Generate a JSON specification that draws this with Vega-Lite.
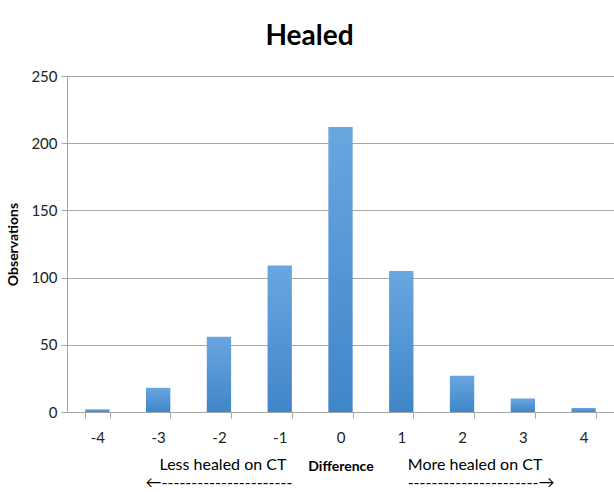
{
  "$schema": "https://vega.github.io/schema/vega-lite/v6.json",
  "width": 547,
  "height": 336,
  "autosize": {"type": "none"},
  "padding": {"left": 67, "top": 76, "right": 0, "bottom": 80},
  "background": "white",
  "title": {"text": "Healed", "font": "Lato", "fontSize": 28, "fontWeight": "bold", "color": "#000000", "anchor": "middle", "frame": "group", "dx": -31, "offset": 18},
  "config": {"view": {"stroke": null}, "font": "Lato"},
  "datasets": {
    "bars": [
      {"cat": "-4", "n": 2},
      {"cat": "-3", "n": 18},
      {"cat": "-2", "n": 56},
      {"cat": "-1", "n": 109},
      {"cat": "0", "n": 212},
      {"cat": "1", "n": 105},
      {"cat": "2", "n": 27},
      {"cat": "3", "n": 10},
      {"cat": "4", "n": 3}
    ],
    "notes": [
      {"cat": "-2", "label": "Less healed on CT", "kind": "less"},
      {"cat": "2", "label": "More healed on CT", "kind": "more"},
      {"cat": "-2", "label": "←----------------------", "kind": "arrowL"},
      {"cat": "2", "label": "----------------------→", "kind": "arrowR"}
    ]
  },
  "encoding": {
    "x": {
      "field": "cat", "type": "nominal",
      "sort": ["-4", "-3", "-2", "-1", "0", "1", "2", "3", "4"],
      "scale": {"paddingInner": 0.6, "paddingOuter": 0.3},
      "axis": {"title": "Difference", "titleFontSize": 14, "titleFontWeight": "bold", "titleColor": "#000000", "titlePadding": 14,
               "labelAngle": 0, "labelFontSize": 15, "labelColor": "#222222", "labelPadding": 12,
               "tickBand": "extent", "tickSize": 6, "tickColor": "#a6a6a6", "domainColor": "#a6a6a6", "grid": false}
    }
  },
  "layer": [
    {
      "data": {"name": "bars"},
      "mark": {"type": "bar", "color": {"gradient": "linear", "x1": 0, "y1": 0, "x2": 0, "y2": 1, "stops": [{"offset": 0, "color": "#6aa6e0"}, {"offset": 1, "color": "#3f86c9"}]}},
      "encoding": {
        "y": {"field": "n", "type": "quantitative", "scale": {"domain": [0, 250], "nice": false},
              "axis": {"title": "Observations", "titleFontSize": 14, "titleFontWeight": "bold", "titleColor": "#000000", "titlePadding": 10,
                       "values": [0, 50, 100, 150, 200, 250], "labelFontSize": 15, "labelColor": "#222222", "labelPadding": 4,
                       "tickSize": 6, "tickColor": "#a6a6a6", "domainColor": "#a6a6a6", "gridColor": "#a6a6a6", "grid": true}}
      }
    },
    {
      "data": {"name": "notes"},
      "transform": [{"filter": "datum.kind == 'less'"}],
      "mark": {"type": "text", "fontSize": 16, "color": "#000000", "baseline": "middle", "dy": 53, "dx": 4},
      "encoding": {"text": {"field": "label"}, "y": {"datum": 0}}
    },
    {
      "data": {"name": "notes"},
      "transform": [{"filter": "datum.kind == 'more'"}],
      "mark": {"type": "text", "fontSize": 16, "color": "#000000", "baseline": "middle", "dy": 53, "dx": 13},
      "encoding": {"text": {"field": "label"}, "y": {"datum": 0}}
    },
    {
      "data": {"name": "notes"},
      "transform": [{"filter": "datum.kind == 'arrowL'"}],
      "mark": {"type": "text", "fontSize": 16, "color": "#000000", "baseline": "middle", "dy": 71},
      "encoding": {"text": {"field": "label"}, "y": {"datum": 0}}
    },
    {
      "data": {"name": "notes"},
      "transform": [{"filter": "datum.kind == 'arrowR'"}],
      "mark": {"type": "text", "fontSize": 16, "color": "#000000", "baseline": "middle", "dy": 71, "dx": 19},
      "encoding": {"text": {"field": "label"}, "y": {"datum": 0}}
    }
  ]
}
